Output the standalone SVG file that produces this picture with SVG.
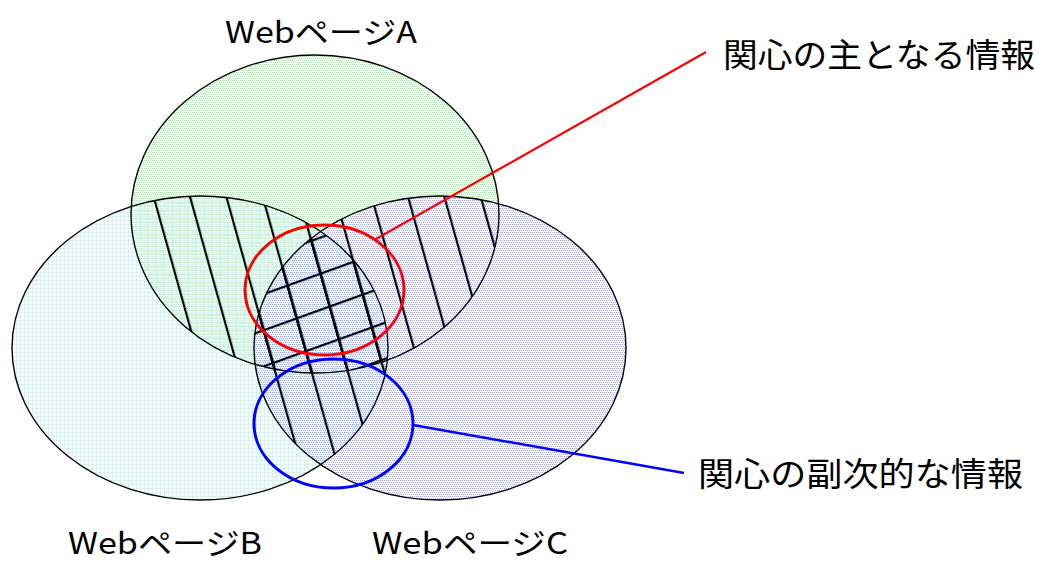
<svg xmlns="http://www.w3.org/2000/svg" width="1041" height="562" viewBox="0 0 1041 562">
<style>
.outline{fill:none;stroke:#000;stroke-width:1.4}
.lbl{font-family:"Noto Sans CJK JP","Liberation Sans",sans-serif;font-size:30px;fill:#000}
.big{font-family:"Noto Sans CJK JP","Liberation Sans",sans-serif;font-size:33px;fill:#000}
</style>
<defs>
<pattern id="pA" width="4" height="4" patternUnits="userSpaceOnUse">
<rect x="0" y="0" width="1" height="1" fill="#9fe89f"/><rect x="2" y="0" width="1" height="1" fill="#9fe89f"/>
<rect x="1" y="2" width="1" height="1" fill="#9fe89f"/><rect x="3" y="2" width="1" height="1" fill="#9fe89f"/>
</pattern>
<pattern id="pB" width="4" height="4" patternUnits="userSpaceOnUse">
<rect x="0" y="0" width="4" height="1" fill="#d8f0f0"/><rect x="0" y="0" width="1" height="4" fill="#d8f0f0"/>
</pattern>
<pattern id="pC" width="4" height="4" patternUnits="userSpaceOnUse">
<rect x="0" y="0" width="1" height="1" fill="#a0a0f0"/><rect x="2" y="0" width="1" height="1" fill="#a0a0f0"/>
<rect x="1" y="2" width="1" height="1" fill="#a0a0f0"/><rect x="3" y="2" width="1" height="1" fill="#a0a0f0"/>
</pattern>
<pattern id="diag" width="35" height="35" patternUnits="userSpaceOnUse" patternTransform="rotate(-15.6)">
<rect x="24" y="0" width="2.2" height="35" fill="#000"/>
</pattern>
<pattern id="cross" width="34" height="34" patternUnits="userSpaceOnUse" patternTransform="rotate(-19.8)">
<rect x="0" y="25" width="34" height="2.2" fill="#000"/>
</pattern>
<clipPath id="cA"><ellipse cx="315" cy="214" rx="184" ry="159"/></clipPath>
<clipPath id="cB"><ellipse cx="200" cy="348" rx="188" ry="152"/></clipPath>
<clipPath id="cC"><ellipse cx="440" cy="348" rx="186" ry="152"/></clipPath>
</defs>
<rect width="1041" height="562" fill="#fff"/>
<g id="pageA">
<ellipse cx="315" cy="214" rx="184" ry="159" fill="url(#pA)"/>
<text class="lbl" x="225" y="43" textLength="192" lengthAdjust="spacingAndGlyphs">WebページA</text>
</g>
<g id="pageB">
<ellipse cx="200" cy="348" rx="188" ry="152" fill="url(#pB)"/>
<text class="lbl" x="68" y="554" textLength="194" lengthAdjust="spacingAndGlyphs">WebページB</text>
</g>
<g id="pageC">
<ellipse cx="440" cy="348" rx="186" ry="152" fill="url(#pC)"/>
<text class="lbl" x="372" y="554" textLength="196" lengthAdjust="spacingAndGlyphs">WebページC</text>
</g>
<g id="hatching">
<g clip-path="url(#cA)"><g clip-path="url(#cB)"><rect width="1041" height="562" fill="url(#diag)"/></g></g>
<g clip-path="url(#cA)"><g clip-path="url(#cC)"><rect width="1041" height="562" fill="url(#diag)"/></g></g>
<g clip-path="url(#cB)"><g clip-path="url(#cC)"><rect width="1041" height="562" fill="url(#diag)"/></g></g>
<g clip-path="url(#cA)"><g clip-path="url(#cB)"><g clip-path="url(#cC)"><rect width="1041" height="562" fill="url(#cross)"/></g></g></g>
</g>
<g id="outlines">
<ellipse class="outline" cx="315" cy="214" rx="184" ry="159"/>
<ellipse class="outline" cx="200" cy="348" rx="188" ry="152"/>
<ellipse class="outline" cx="440" cy="348" rx="186" ry="152"/>
</g>
<g id="mainInfo">
<ellipse cx="324.5" cy="290" rx="79.5" ry="65" fill="none" stroke="#ff0000" stroke-width="3"/>
<text class="big" x="723" y="67" textLength="312" lengthAdjust="spacingAndGlyphs">関心の主となる情報</text>
</g>
<g id="subInfo">
<ellipse cx="333.5" cy="423.5" rx="79.5" ry="64.5" fill="none" stroke="#0000ff" stroke-width="3"/>
<text class="big" x="698" y="486" textLength="325" lengthAdjust="spacingAndGlyphs">関心の副次的な情報</text>
</g>
<g id="connectors">
<line x1="376" y1="239" x2="706" y2="52" stroke="#ff0000" stroke-width="2.2"/>
<line x1="413" y1="425" x2="684" y2="473" stroke="#0000ff" stroke-width="2.4"/>
</g>
</svg>
